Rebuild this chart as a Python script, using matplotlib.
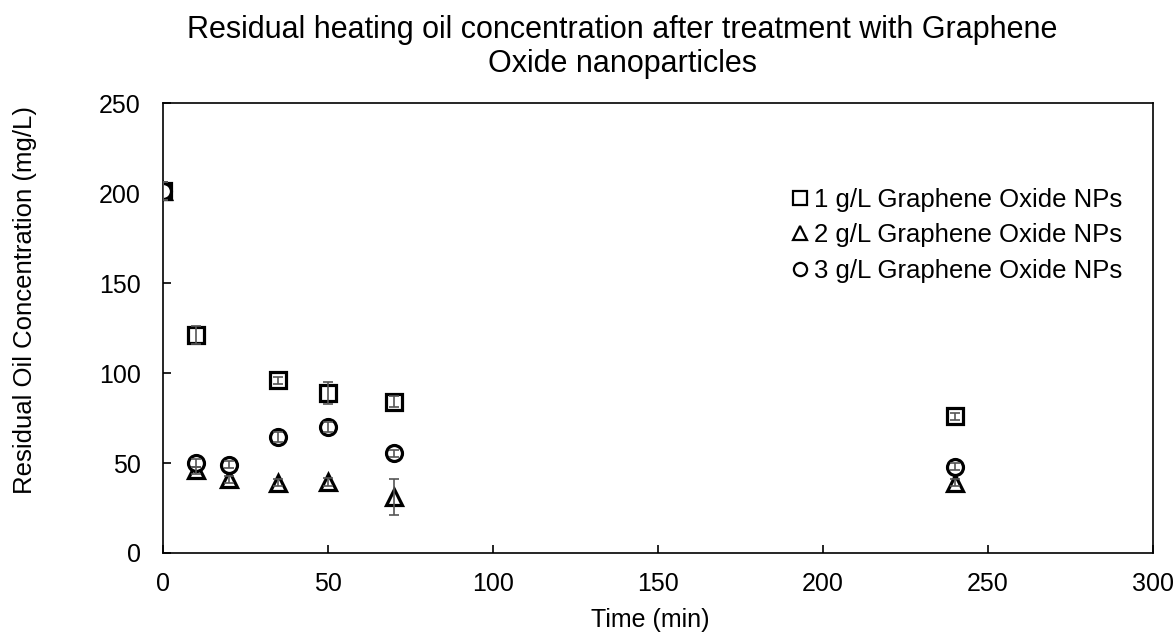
import matplotlib
matplotlib.use("Agg")
import matplotlib.pyplot as plt
from matplotlib.lines import Line2D

plt.rcParams['font.family'] = ['Liberation Sans', 'DejaVu Sans']

# time points (min)
t_1g = [0, 10, 35, 50, 70, 240]
t_2g = [0, 10, 20, 35, 50, 70, 240]
t_3g = [0, 10, 20, 35, 50, 70, 240]

# residual oil concentration (mg/L)
c_1g = [201, 121, 96, 89, 84, 76]
c_2g = [201, 46, 41, 39, 39.5, 31, 39]
c_3g = [201, 50, 49, 64.5, 70, 55.5, 48]

# error bars
e_1g = [5, 5, 2, 6, 3, 2]
e_2g = [5, 2, 2, 2, 2, 10, 2]
e_3g = [5, 2, 2, 3, 3, 2, 2]

labels = ['1 g/L Graphene Oxide NPs', '2 g/L Graphene Oxide NPs', '3 g/L Graphene Oxide NPs']
markers = ['s', '^', 'o']

fig = plt.figure(figsize=(11.74, 6.32), dpi=100)
ax = fig.add_axes([0.1388, 0.125, 0.8432, 0.712])

for t, c, e, m in [(t_1g, c_1g, e_1g, 's'), (t_2g, c_2g, e_2g, '^'), (t_3g, c_3g, e_3g, 'o')]:
    ax.plot(t, c, m, mfc='white', mec='black', mew=2.3, ms=11.5, zorder=3)
    ax.errorbar(t, c, yerr=e, fmt='none', ecolor='#555555', elinewidth=1.2,
                capsize=3.5, capthick=1.2, zorder=4)

ax.set_xlim(0, 300)
ax.set_ylim(0, 250)
ax.set_xticks(range(0, 301, 50))
ax.set_yticks(range(0, 251, 50))
ax.tick_params(direction='in', length=6, width=1.2, labelsize=18)
ax.tick_params(axis='y', pad=16)
ax.tick_params(axis='x', pad=14)
for s in ax.spines.values():
    s.set_linewidth(1.2)

fig.text(650 / 1174, 1 - 620 / 632, 'Time (min)', fontsize=18, ha='center', va='center')
fig.text(25 / 1174, 1 - 300 / 632, 'Residual Oil Concentration (mg/L)', fontsize=18.5,
         ha='center', va='center', rotation=90)
fig.text(622 / 1174, 1 - 47 / 632,
         'Residual heating oil concentration after treatment with Graphene\nOxide nanoparticles',
         fontsize=22, ha='center', va='center', linespacing=1.2)

handles = [Line2D([], [], ls='none', marker=m, mfc='white', mec='black', mew=1.6, ms=9.5)
           for m in markers]
ax.legend(handles, labels, loc='upper left', bbox_to_anchor=(0.62, 0.835), frameon=False,
          fontsize=18.5, handletextpad=0.05, handlelength=1.0, labelspacing=0.45,
          borderaxespad=0)

fig.savefig('out.png', dpi=100)
